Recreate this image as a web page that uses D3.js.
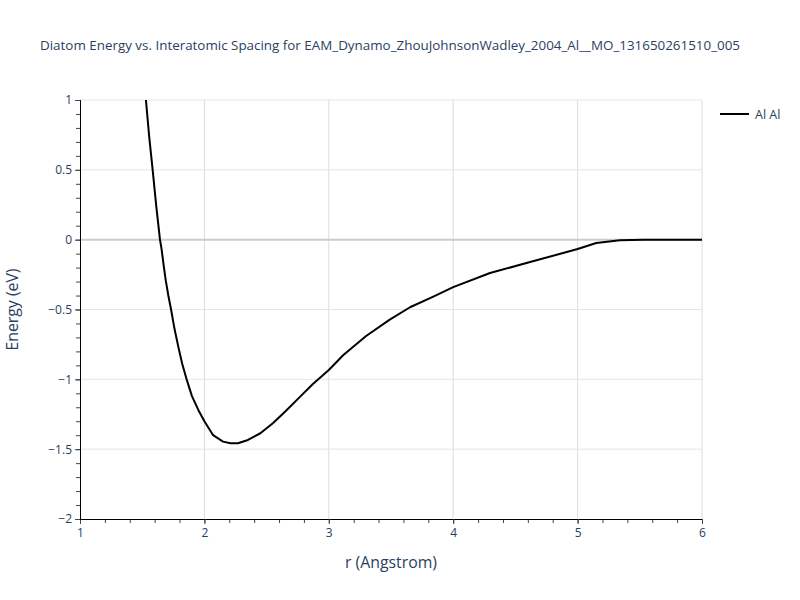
<!DOCTYPE html>
<html>
<head>
<meta charset="utf-8">
<script src="https://cdn.jsdelivr.net/npm/d3@7"></script>
<style>
body { margin: 0; background: #fff; }
text { font-family: "Open Sans", "Noto Sans", sans-serif; fill: #2a3f5f; }
</style>
</head>
<body>
<svg id="chart" width="800" height="600"></svg>
<script>
const title = "Diatom Energy vs. Interatomic Spacing for EAM_Dynamo_ZhouJohnsonWadley_2004_Al__MO_131650261510_005";
const seriesName = "Al Al";
const rValues = [1.50, 1.53, 1.556, 1.584, 1.613, 1.643, 1.656, 1.672, 1.689, 1.71, 1.732, 1.76, 1.79, 1.822, 1.857, 1.90, 1.951, 2.00, 2.07, 2.15, 2.21, 2.27, 2.35, 2.45, 2.55, 2.65, 2.77, 2.87, 3.00, 3.117, 3.30, 3.49, 3.653, 3.84, 4.00, 4.296, 4.64, 5.00, 5.15, 5.34, 5.53, 6.00];
const energyValues = [1.32, 1.00, 0.74, 0.50, 0.24, 0.00, -0.07, -0.18, -0.29, -0.40, -0.50, -0.64, -0.766, -0.89, -1.00, -1.12, -1.219, -1.30, -1.40, -1.446, -1.458, -1.458, -1.434, -1.386, -1.315, -1.23, -1.124, -1.035, -0.933, -0.826, -0.69, -0.573, -0.484, -0.408, -0.34, -0.239, -0.155, -0.067, -0.024, -0.005, 0.0, 0.0];
const xTicks = [1, 2, 3, 4, 5, 6];
const yTicks = [1, 0.5, 0, -0.5, -1, -1.5, -2];
const xDomain = [1, 6];
const yDomain = [-2, 1];

const svg = d3.select("#chart");
const m = { left: 80, right: 702, top: 100, bottom: 519 };
const x = d3.scaleLinear().domain(xDomain).range([m.left, m.right]);
const y = d3.scaleLinear().domain(yDomain).range([m.bottom, m.top]);

svg.append("defs").append("clipPath").attr("id", "clip")
  .append("rect").attr("x", m.left).attr("y", m.top)
  .attr("width", m.right - m.left).attr("height", m.bottom - m.top);

// grid
const g = svg.append("g");
g.selectAll(".vg").data(xTicks.filter(d => d !== xDomain[0])).enter().append("line")
  .attr("x1", d => x(d)).attr("x2", d => x(d)).attr("y1", m.top).attr("y2", m.bottom)
  .attr("stroke", "#dcdcdc").attr("stroke-width", 1);
g.selectAll(".hg").data(yTicks.filter(d => d !== 0 && d !== yDomain[0])).enter().append("line")
  .attr("x1", m.left).attr("x2", m.right).attr("y1", d => y(d)).attr("y2", d => y(d))
  .attr("stroke", "#e5e5e5").attr("stroke-width", 1);
g.append("line").attr("x1", m.left).attr("x2", m.right).attr("y1", y(0)).attr("y2", y(0))
  .attr("stroke", "#cccccc").attr("stroke-width", 2);

// axes
const fmt = d => (d < 0 ? "\u2212" + Math.abs(d) : String(d));
const xAxis = d3.axisBottom(x).tickValues(xTicks).tickFormat(fmt).tickSize(5).tickPadding(4);
const yAxis = d3.axisLeft(y).tickValues(yTicks).tickFormat(fmt).tickSize(5).tickPadding(3);
const xMinor = d3.axisBottom(x).tickValues(d3.range(1, 6.001, 0.2)).tickFormat("").tickSize(4);
const yMinor = d3.axisLeft(y).tickValues(d3.range(-2, 1.001, 0.1)).tickFormat("").tickSize(4);

const gx = svg.append("g").attr("transform", `translate(0,${m.bottom})`);
gx.call(xMinor);
gx.append("g").call(xAxis);
const gy = svg.append("g").attr("transform", `translate(${m.left},0)`);
gy.call(yMinor);
gy.append("g").call(yAxis);
svg.selectAll(".domain").attr("stroke", "#000").attr("stroke-width", 1);
svg.selectAll(".tick line").attr("stroke", "#444");
svg.selectAll(".tick text").attr("font-size", 12).style("fill", "#2a3f5f")
  .attr("font-family", "'Open Sans', sans-serif");

// line
svg.append("path").datum(rValues.map((r, i) => [r, energyValues[i]]))
  .attr("clip-path", "url(#clip)")
  .attr("fill", "none").attr("stroke", "#000").attr("stroke-width", 2)
  .attr("stroke-linejoin", "round")
  .attr("d", d3.line().x(d => x(d[0])).y(d => y(d[1])));

// titles
svg.append("text").attr("x", 390).attr("y", 50).attr("text-anchor", "middle")
  .attr("font-size", 13.4).text(title);
svg.append("text").attr("x", (m.left + m.right) / 2).attr("y", 568).attr("text-anchor", "middle")
  .attr("font-size", 15.8).text("r (Angstrom)");
svg.append("text").attr("transform", `translate(18,${(m.top + m.bottom) / 2}) rotate(-90)`)
  .attr("text-anchor", "middle").attr("font-size", 15.8).text("Energy (eV)");

// legend
svg.append("line").attr("x1", 720).attr("x2", 749).attr("y1", 114).attr("y2", 114)
  .attr("stroke", "#000").attr("stroke-width", 2);
svg.append("text").attr("x", 755).attr("y", 118.5).attr("font-size", 12.5).text(seriesName);
</script>
</body>
</html>
